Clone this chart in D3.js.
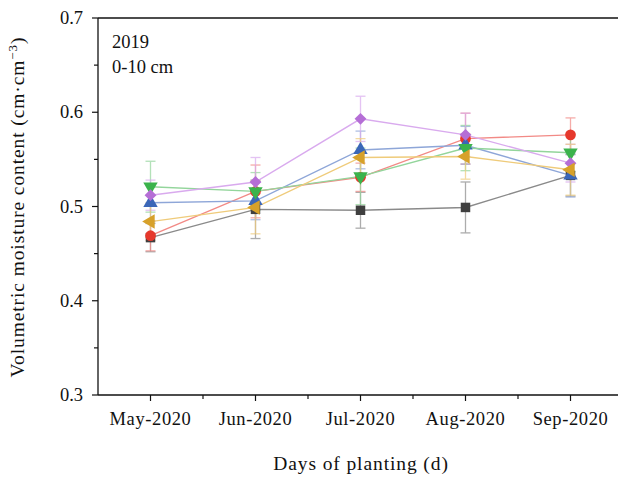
<!DOCTYPE html>
<html>
<head>
<meta charset="utf-8">
<script src="https://cdn.jsdelivr.net/npm/d3@7"></script>
<style>
  body { margin: 0; background: #fff; }
  text { font-family: "Liberation Serif", "Times New Roman", serif; fill: #111; }
</style>
</head>
<body>
<div id="chart-container"></div>
<script>
var months = ["May-2020", "Jun-2020", "Jul-2020", "Aug-2020", "Sep-2020"];
var y_ticks = [0.3, 0.4, 0.5, 0.6, 0.7];

// mean and error of each treatment
var gray_mean   = [0.467, 0.497, 0.496, 0.499, 0.533];
var gray_err    = [0.015, 0.031, 0.019, 0.027, 0.022];
var red_mean    = [0.469, 0.516, 0.531, 0.572, 0.576];
var red_err     = [0.016, 0.028, 0.015, 0.027, 0.018];
var blue_mean   = [0.504, 0.506, 0.560, 0.565, 0.533];
var blue_err    = [0.020, 0.020, 0.020, 0.020, 0.023];
var green_mean  = [0.521, 0.516, 0.532, 0.562, 0.557];
var green_err   = [0.027, 0.020, 0.030, 0.024, 0.020];
var purple_mean = [0.512, 0.526, 0.593, 0.576, 0.546];
var purple_err  = [0.016, 0.026, 0.024, 0.023, 0.020];
var yellow_mean = [0.484, 0.499, 0.552, 0.553, 0.539];
var yellow_err  = [0.020, 0.028, 0.020, 0.024, 0.027];

var series = [
  {mean: gray_mean, err: gray_err, color: "#3f3f3f", line: "#8a8a8a", symbol: d3.symbolSquare, rot: 0},
  {mean: red_mean, err: red_err, color: "#e6382c", line: "#f28a86", symbol: d3.symbolCircle, rot: 0},
  {mean: blue_mean, err: blue_err, color: "#3b67b8", line: "#8ea6d8", symbol: d3.symbolTriangle, rot: 0},
  {mean: green_mean, err: green_err, color: "#3bb34c", line: "#93d59b", symbol: d3.symbolTriangle, rot: 180},
  {mean: purple_mean, err: purple_err, color: "#b56ed6", line: "#d9aaee", symbol: d3.symbolSquare, rot: 45},
  {mean: yellow_mean, err: yellow_err, color: "#d7a12a", line: "#efcb7a", symbol: d3.symbolTriangle, rot: -90}
];

var svg_width = 618, svg_height = 478;
var plot_left = 98, plot_top = 18, plot_bottom = 395, plot_right = 623;
var font_size = "18.5px";
var title_size = "19.5px";

var svg = d3.select("#chart-container")
  .append("svg")
  .attr("width", svg_width)
  .attr("height", svg_height);

var x = d3.scaleBand().domain(months).range([plot_left, plot_right]);
var y = d3.scaleLinear().domain([0.3, 0.7]).range([plot_bottom, plot_top]);

// top frame line
svg.append("line")
  .attr("x1", plot_left).attr("x2", svg_width)
  .attr("y1", y(0.7)).attr("y2", y(0.7))
  .attr("stroke", "#111").attr("stroke-width", 1.5);

// x axis
var xAxis = svg.append("g").attr("transform", "translate(0," + plot_bottom + ")");
xAxis.append("line").attr("x1", plot_left).attr("x2", svg_width)
  .attr("stroke", "#111").attr("stroke-width", 1.3);
xAxis.selectAll(".major").data(months).enter().append("line")
  .attr("x1", d => x(d) + x.bandwidth() / 2).attr("x2", d => x(d) + x.bandwidth() / 2)
  .attr("y1", 0).attr("y2", 6).attr("stroke", "#111").attr("stroke-width", 1.2);
xAxis.selectAll(".minor").data(months.slice(1)).enter().append("line")
  .attr("x1", d => x(d)).attr("x2", d => x(d))
  .attr("y1", 0).attr("y2", 4).attr("stroke", "#111").attr("stroke-width", 1.2);
xAxis.selectAll(".lab").data(months).enter().append("text")
  .attr("x", d => x(d) + x.bandwidth() / 2)
  .attr("y", 30)
  .attr("text-anchor", "middle")
  .style("font-size", font_size)
  .style("letter-spacing", "0.6px")
  .text(d => d);

// y axis
var yAxis = svg.append("g");
yAxis.append("line").attr("x1", plot_left).attr("x2", plot_left)
  .attr("y1", plot_top).attr("y2", plot_bottom)
  .attr("stroke", "#111").attr("stroke-width", 1.3);
yAxis.selectAll(".major").data(y_ticks).enter().append("line")
  .attr("x1", plot_left - 6).attr("x2", plot_left)
  .attr("y1", d => y(d)).attr("y2", d => y(d))
  .attr("stroke", "#111").attr("stroke-width", 1.2);
yAxis.selectAll(".minor").data(y_ticks.slice(1)).enter().append("line")
  .attr("x1", plot_left - 4).attr("x2", plot_left)
  .attr("y1", d => y(d - 0.05)).attr("y2", d => y(d - 0.05))
  .attr("stroke", "#111").attr("stroke-width", 1.2);
yAxis.selectAll(".lab").data(y_ticks).enter().append("text")
  .attr("x", plot_left - 15)
  .attr("y", d => y(d) + 6)
  .attr("text-anchor", "end")
  .style("font-size", font_size)
  .text(d => d.toFixed(1));

// axis titles
svg.append("text")
  .attr("x", 361).attr("y", 470)
  .attr("text-anchor", "middle")
  .style("font-size", title_size)
  .style("letter-spacing", "0.9px")
  .text("Days of planting (d)");

var ylab = svg.append("text")
  .attr("transform", "translate(24," + 207 + ") rotate(-90)")
  .attr("text-anchor", "middle")
  .style("font-size", title_size)
  .style("letter-spacing", "0.9px");
ylab.append("tspan").text("Volumetric moisture content (cm·cm");
ylab.append("tspan").attr("dy", -7).style("font-size", "13px").text("−3");
ylab.append("tspan").attr("dy", 7).text(")");

// annotation
svg.append("text").attr("x", 112).attr("y", 48).style("font-size", font_size).text("2019");
svg.append("text").attr("x", 112).attr("y", 73).style("font-size", font_size).text("0-10 cm");

var cx = d => x(d) + x.bandwidth() / 2;
var line = d3.line().x((d, i) => cx(months[i])).y(d => y(d));

// error bars
series.forEach(function(s) {
  var g = svg.append("g").attr("opacity", 0.7);
  months.forEach(function(m, i) {
    var xc = cx(m), lo = y(s.mean[i] - s.err[i]), hi = y(s.mean[i] + s.err[i]);
    g.append("line").attr("x1", xc).attr("x2", xc).attr("y1", lo).attr("y2", hi)
      .attr("stroke", s.line).attr("stroke-width", 1.3);
    [lo, hi].forEach(function(v) {
      g.append("line").attr("x1", xc - 5).attr("x2", xc + 5).attr("y1", v).attr("y2", v)
        .attr("stroke", s.line).attr("stroke-width", 1.3);
    });
  });
});

// lines and markers
series.forEach(function(s) {
  svg.append("path")
    .attr("d", line(s.mean))
    .attr("fill", "none")
    .attr("stroke", s.line)
    .attr("stroke-width", 1.4);
});
series.forEach(function(s) {
  svg.selectAll(null).data(s.mean).enter().append("path")
    .attr("d", d3.symbol().type(s.symbol).size(s.rot === 45 ? 70 : 90))
    .attr("transform", (d, i) => "translate(" + cx(months[i]) + "," + y(d) + ") rotate(" + s.rot + ")")
    .attr("fill", s.color);
});
</script>
</body>
</html>
